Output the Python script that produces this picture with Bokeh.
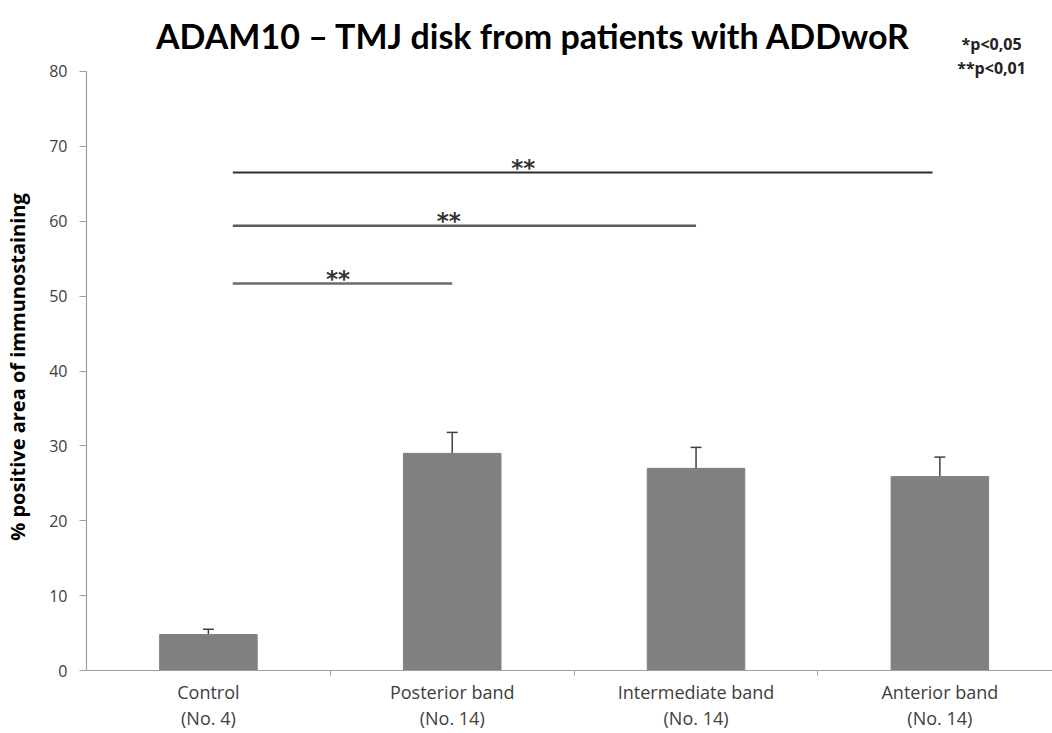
from bokeh.plotting import figure
from bokeh.models import Range1d, FixedTicker, Whisker, TeeHead, ColumnDataSource, Label
from bokeh.embed import file_html
from bokeh.resources import INLINE

# ---- data ----
categories = ["Control", "Posterior band", "Intermediate band", "Anterior band"]
sample_sizes = ["(No. 4)", "(No. 14)", "(No. 14)", "(No. 14)"]
means = [4.8, 29.0, 27.0, 25.9]
errors = [0.7, 2.8, 2.8, 2.6]
y_ticks = [0, 10, 20, 30, 40, 50, 60, 70, 80]
sig_pairs = [(0, 1), (0, 2), (0, 3)]
sig_heights = [51.7, 59.4, 66.5]
sig_labels = ["**", "**", "**"]
title_text = "ADAM10 \u2013 TMJ disk from patients with ADDwoR"
legend_lines = ["*p<0,05", "**p<0,01"]
y_label = "% positive area of immunostaining"

FONT = "Open Sans"
TXT = "#404040"

xs = list(range(len(categories)))
src = ColumnDataSource(dict(x=xs, top=means, lower=means,
                            upper=[m + e for m, e in zip(means, errors)]))

p = figure(width=1052, height=733, output_backend="svg", toolbar_location=None,
           x_range=Range1d(-0.5, 3.462), y_range=Range1d(-8.41, 89.48),
           min_border_left=86, min_border_top=0, min_border_bottom=0, min_border_right=0)
p.outline_line_color = None
p.grid.visible = False
p.background_fill_color = "white"

p.vbar(x="x", top="top", bottom=0, width=0.4, source=src, fill_color="#808080", line_color="#808080")

w = Whisker(base="x", lower="lower", upper="upper", source=src,
            line_color="#404040", line_width=1.5,
            upper_head=TeeHead(size=11, line_color="#404040", line_width=1.5),
            lower_head=None)
p.add_layout(w)

# significance bars
line_colors = ["#6a6a6a", "#5a5a5a", "#2e2e2e"]
line_widths = [2.5, 2.5, 2.0]
star_fracs = [0.48, 0.466, 0.415]
for (a, b), h, lab, c, lw, fr in zip(sig_pairs, sig_heights, sig_labels, line_colors, line_widths, star_fracs):
    x0 = a + 0.1
    x1 = b - (0.03 if b == 3 else 0.0)
    p.segment(x0=[x0], y0=[h], x1=[x1], y1=[h], line_color=c, line_width=lw)
    p.add_layout(Label(x=x0 + fr * (x1 - x0), y=h + 0.6, text=lab, text_font="DejaVu Sans",
                       text_font_style="bold", text_font_size="23px", text_color="#333333",
                       text_align="center", text_baseline="alphabetic"))

# title and legend text
p.add_layout(Label(x=1.335, y=84.81, text=title_text, text_font="Lato", text_font_style="bold",
                   text_font_size="34px", text_color="black", text_align="center",
                   text_baseline="alphabetic"))
p.add_layout(Label(x=3.212, y=83.7, text=legend_lines[0], text_font=FONT, text_font_style="bold",
                   text_font_size="16px", text_color="#222222", text_align="center",
                   text_baseline="alphabetic"))
p.add_layout(Label(x=3.212, y=80.4, text=legend_lines[1], text_font=FONT, text_font_style="bold",
                   text_font_size="16px", text_color="#222222", text_align="center",
                   text_baseline="alphabetic"))

# x axis (fixed at y = 0)
xa = p.xaxis[0]
xa.fixed_location = 0
xa.ticker = FixedTicker(ticks=xs, minor_ticks=[0.5, 1.5, 2.5])
xa.major_label_overrides = {i: f"{c}\n{n}" for i, c, n in zip(xs, categories, sample_sizes)}
xa.major_tick_out = 0
xa.major_tick_in = 0
xa.minor_tick_out = 5
xa.minor_tick_in = 0
xa.minor_tick_line_color = "#a0a0a0"
xa.axis_line_color = "#a0a0a0"
xa.axis_line_width = 1.2
xa.major_label_text_font = FONT
xa.major_label_text_font_size = "18px"
xa.major_label_text_color = TXT
xa.major_label_text_line_height = 1.12
xa.major_label_standoff = 4

# y axis
ya = p.yaxis[0]
ya.ticker = FixedTicker(ticks=y_ticks, minor_ticks=[])
ya.bounds = (0, 80)
ya.axis_line_color = "#a0a0a0"
ya.axis_line_width = 1.2
ya.major_tick_line_color = "#a0a0a0"
ya.major_tick_out = 7
ya.major_tick_in = 0
ya.minor_tick_out = 0
ya.major_label_text_font = FONT
ya.major_label_text_font_size = "16px"
ya.major_label_text_color = TXT
ya.major_label_standoff = 12
ya.axis_label = y_label
ya.axis_label_text_font = FONT
ya.axis_label_text_font_style = "bold"
ya.axis_label_text_font_size = "20px"
ya.axis_label_text_color = "black"
ya.axis_label_standoff = 15

open("out.html", "w").write(file_html(p, INLINE))
